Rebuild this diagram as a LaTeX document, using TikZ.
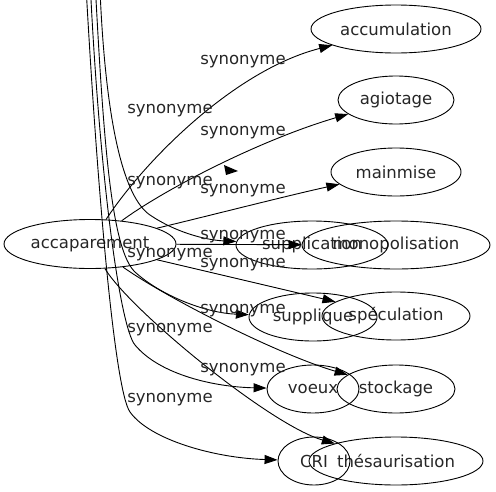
\documentclass[tikz,border=0pt]{standalone}
\usepackage{fontspec}
\setmainfont{DejaVu Sans}
\usepackage{tikz}
\usetikzlibrary{shapes,arrows.meta}

\begin{document}
\begin{tikzpicture}[x=1pt, y=-1pt, line width=0.9pt,
    every node/.style={font=\fontsize{16.5pt}{18pt}\selectfont, text=black!85},
    word/.style={draw, ellipse, inner sep=0pt, minimum height=48pt},
    syn/.style={inner sep=0pt},
    >={Triangle[length=13pt, width=9pt]}]
    \useasboundingbox (0,0) rectangle (496,491);
    \node[word, minimum width=172pt, minimum height=49pt](acc) at (90,244){accaparement};
    \node[word, minimum width=170pt](accum) at (396,29){accumulation};
    \node[word, minimum width=116pt](agio) at (396,100){agiotage};
    \node[word, minimum width=130pt](mainm) at (396,172){mainmise};
    \node[word, minimum width=188pt](monop) at (396,245){monopolisation};
    \node[word, minimum width=152pt](supplic) at (312,245){supplication};
    \node[word, minimum width=148pt](specul) at (396,316){spéculation};
    \node[word, minimum width=128pt](suppliq) at (313,317){supplique};
    \node[word, minimum width=118pt](stock) at (396,389){stockage};
    \node[word, minimum width=92pt](voeux) at (313,389){voeux};
    \node[word, minimum width=174pt](thesau) at (396,461){thésaurisation};
    \node[word, minimum width=72pt](cri) at (314,461){CRI};

    \coordinate (t1) at (86.2,-10);
    \coordinate (t2) at (90.5,-10);
    \coordinate (t3) at (95.5,-10);
    \coordinate (t4) at (100,-10);
    \coordinate (p1) at (130,412);
    \coordinate (p2) at (135,345);
    \coordinate (p3) at (135,272);
    \coordinate (p4) at (150,215);

    \draw[->] (acc) .. controls (145,160) and (235,70) .. (accum);
    \draw[->] (acc) .. controls (165,189) and (260,140) .. (agio);
    \draw[->] (acc) .. controls (200,218) and (290,195) .. (mainm);
    \draw[->] (acc) -- (monop);
    \draw[->] (acc) -- (specul);
    \draw[->] (acc) .. controls (170,300) and (280,355) .. (stock);
    \draw[->] (acc) .. controls (130,310) and (270,425) .. (thesau);

    \draw[->] (t4) .. controls (106,130) and (125,198) .. (p4) .. controls (175,232) and (205,240) .. (supplic);
    \draw[->] (t3) .. controls (104,150) and (112,250) .. (p3) .. controls (160,295) and (205,313) .. (suppliq);
    \draw[->] (t2) .. controls (100,180) and (120,327) .. (p2) .. controls (160,375) and (215,387) .. (voeux);
    \draw[->] (t1) .. controls (98,200) and (115,391) .. (p1) .. controls (150,440) and (215,458) .. (cri);
    \fill (224,165) -- (238,171) -- (226,175) -- cycle;

    \node[syn](l1) at (243,62){synonyme};
    \node[syn](l2) at (170,111){synonyme};
    \node[syn](l3) at (243,133){synonyme};
    \node[syn](l4) at (170,183){synonyme};
    \node[syn](l5) at (243,191){synonyme};
    \node[syn](l6) at (243,237){synonyme};
    \node[syn](l7) at (170,255){synonyme};
    \node[syn](l8) at (243,265){synonyme};
    \node[syn](l9) at (243,311){synonyme};
    \node[syn](l10) at (170,330){synonyme};
    \node[syn](l11) at (243,370){synonyme};
    \node[syn](l12) at (170,400){synonyme};
\end{tikzpicture}
\end{document}
